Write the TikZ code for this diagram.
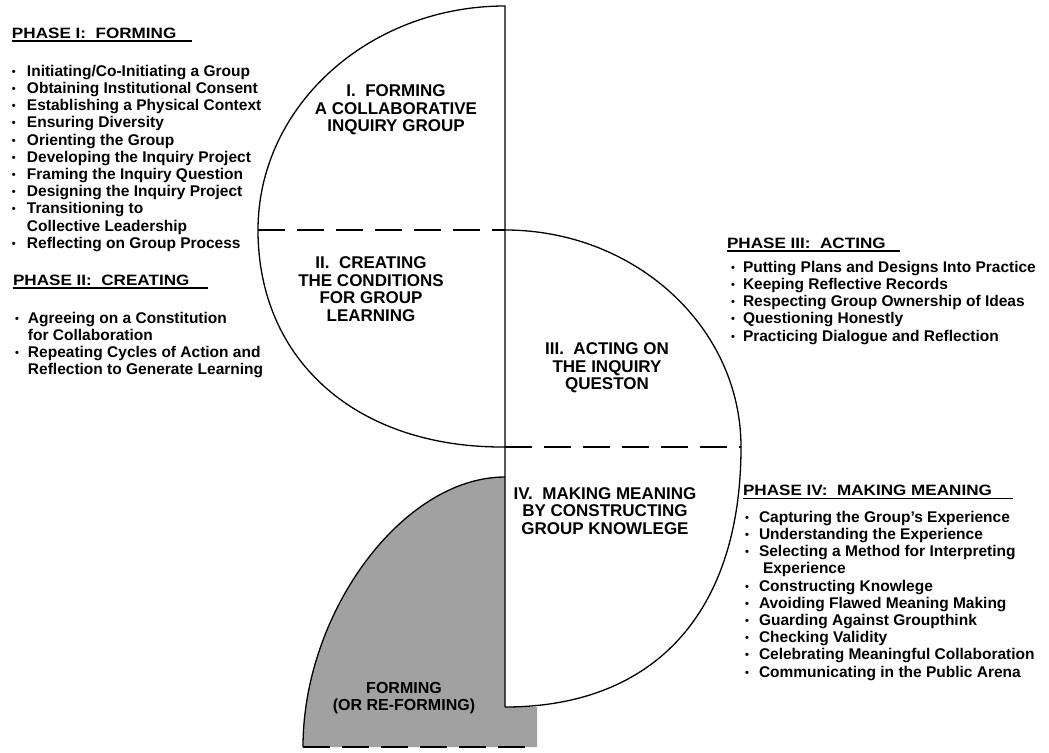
\documentclass[tikz,border=0pt]{standalone}
\usepackage{fontspec}
\setmainfont{Liberation Sans}
\newfontfamily\headfont{Liberation Sans}[FakeStretch=1.14]
\newcommand{\bul}[1][15pt]{\makebox[#1][l]{\raisebox{1pt}{\fontsize{11}{11}\selectfont\textbullet}}}

\begin{document}
\begin{tikzpicture}[
        x=1pt, y=-1pt,
        line width=1.3pt,
        every node/.style={inner sep=0pt, outer sep=0pt}
    ]
    \tikzset {
        phasehead/.style = {anchor=base west, font=\headfont\bfseries\fontsize{15}{17}\selectfont},
        itemlist/.style = {anchor=north west, align=left, font=\bfseries\fontsize{15.5}{17.2}\selectfont},
        quarterlabel/.style = {align=center, font=\bfseries\fontsize{17}{17.5}\selectfont},
        divider/.style = {dash pattern=on 27pt off 12pt},
    }
    \useasboundingbox (0,0) rectangle (1049,752);

    \coordinate (top) at (505,6);
    \coordinate (left) at (258,230);
    \coordinate (mid) at (505,230);
    \coordinate (low) at (505,447);
    \coordinate (right) at (741,447);
    \coordinate (bottom) at (505,707);
    \coordinate (shadetop) at (505,477);
    \coordinate (shadeleft) at (303,747);
    \coordinate (shadeend) at (537,747);

    \fill[black!37] (shadetop) .. controls (403,477) and (303,612) .. (shadeleft)
        -- (shadeend) -- (537,707) -- (bottom) -- cycle;
    \draw (shadetop) .. controls (403,477) and (303,612) .. (shadeleft);
    \draw[divider] (shadeleft) -- (shadeend);

    \draw (left) .. controls (258,106) and (369,6) .. (top) -- (bottom);
    \draw (left) .. controls (258,361) and (357,448) .. (low);
    \draw (mid) .. controls (635,230) and (741,327) .. (right);
    \draw (right) .. controls (741,612) and (655,707) .. (bottom);
    \draw[divider] (left) -- (mid);
    \draw[divider] (low) -- (right);

    \node[quarterlabel] (forming) at (396,110) {I.~~FORMING\\A COLLABORATIVE\\INQUIRY GROUP};
    \node[quarterlabel] (creating) at (371,289) {II.~~CREATING\\THE CONDITIONS\\FOR GROUP\\LEARNING};
    \node[quarterlabel] (acting) at (607,368) {III.~~ACTING ON\\THE INQUIRY\\QUESTON};
    \node[quarterlabel] (meaning) at (605,511) {IV.~~MAKING MEANING\\BY CONSTRUCTING\\GROUP KNOWLEGE};
    \node[quarterlabel, font=\bfseries\fontsize{16}{17.5}\selectfont] (reforming) at (404,698) {FORMING\\(OR RE-FORMING)};

    \node[phasehead] (head1) at (12,38) {PHASE I:~~FORMING};
    \node[phasehead] (head2) at (13,285) {PHASE II:~~CREATING};
    \node[phasehead] (head3) at (727,248) {PHASE III:~~ACTING};
    \node[phasehead] (head4) at (743,495) {PHASE IV:~~MAKING MEANING};
    \draw (head1.south west) ++(0,3) -- +(180,0);
    \draw (head2.south west) ++(0,3) -- +(195,0);
    \draw (head3.south west) ++(0,3) -- +(173,0);
    \draw (head4.south west) ++(0,3) -- +(270,0);

    \node[itemlist] (list1) at (12,65) {\bul Initiating/Co-Initiating a Group\\
        \bul Obtaining Institutional Consent\\
        \bul Establishing a Physical Context\\
        \bul Ensuring Diversity\\
        \bul Orienting the Group\\
        \bul Developing the Inquiry Project\\
        \bul Framing the Inquiry Question\\
        \bul Designing the Inquiry Project\\
        \bul Transitioning to\\
        \hspace*{15pt}Collective Leadership\\
        \bul Reflecting on Group Process};
    \node[itemlist] (list2) at (15,312) {\bul[13pt]Agreeing on a Constitution\\
        \hspace*{13pt}for Collaboration\\
        \bul[13pt]Repeating Cycles of Action and\\
        \hspace*{13pt}Reflection to Generate Learning};
    \node[itemlist] (list3) at (731,261) {\bul[12pt]Putting Plans and Designs Into Practice\\
        \bul[12pt]Keeping Reflective Records\\
        \bul[12pt]Respecting Group Ownership of Ideas\\
        \bul[12pt]Questioning Honestly\\
        \bul[12pt]Practicing Dialogue and Reflection};
    \node[itemlist] (list4) at (745,511) {\bul[14pt]Capturing the Group's Experience\\
        \bul[14pt]Understanding the Experience\\
        \bul[14pt]Selecting a Method for Interpreting\\
        \hspace*{18pt}Experience\\
        \bul[14pt]Constructing Knowlege\\
        \bul[14pt]Avoiding Flawed Meaning Making\\
        \bul[14pt]Guarding Against Groupthink\\
        \bul[14pt]Checking Validity\\
        \bul[14pt]Celebrating Meaningful Collaboration\\
        \bul[14pt]Communicating in the Public Arena};
\end{tikzpicture}
\end{document}
